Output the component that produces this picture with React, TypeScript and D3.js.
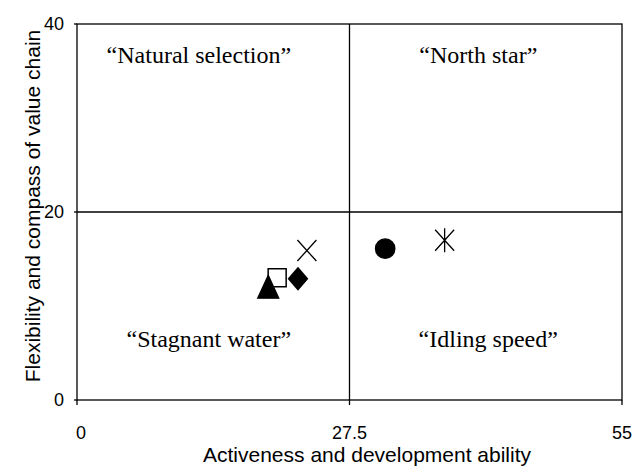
import React from 'react';
import * as d3 from 'd3';

// points
const markerShapes = ['square', 'triangle', 'diamond', 'cross', 'circle', 'asterisk'];
const xValues = [20.2, 19.3, 22.3, 23.2, 31.1, 37.1];
const yValues = [13.0, 12.0, 12.9, 15.9, 16.1, 17.0];

// axes
const xTicks = [0, 27.5, 55];
const yTicks = [0, 20, 40];
const xTitle = 'Activeness and development ability';
const yTitle = 'Flexibility and compass of value chain';

// quadrant labels
const quadrantNames = ['\u201cNatural selection\u201d', '\u201cNorth star\u201d', '\u201cStagnant water\u201d', '\u201cIdling speed\u201d'];
const quadrantX = [12.3, 40.5, 13.3, 41.5];
const quadrantY = [35.8, 35.8, 5.6, 5.6];

const width = 634;
const height = 468;
const margin = { top: 24, right: 12, bottom: 68, left: 77 };

// path for each marker, centred on 0,0
const markerPath = (shape: string) => {
    switch (shape) {
        case 'square':
            return 'M-9,-9H9V9H-9Z';
        case 'triangle':
            return 'M0,-12L10.5,11L-10.5,11Z';
        case 'diamond':
            return 'M0,-11L9.5,0L0,11L-9.5,0Z';
        case 'cross':
            return 'M-9.5,-10.5L9.5,10.5M9.5,-10.5L-9.5,10.5';
        case 'asterisk':
            return 'M-9.5,-10.5L9.5,10.5M9.5,-10.5L-9.5,10.5M0,-12L0,12';
        default:
            return d3.symbol().type(d3.symbolCircle).size(Math.PI * 9.7 * 9.7)() as string;
    }
};

const App = () => {
    const x = d3.scaleLinear().domain([0, 55]).range([margin.left, width - margin.right]);
    const y = d3.scaleLinear().domain([0, 40]).range([height - margin.bottom, margin.top]);

    const line = { stroke: '#000', strokeWidth: 1.3, fill: 'none' };
    const sans = 'Liberation Sans, Arial, sans-serif';
    const serif = 'Liberation Serif, Times New Roman, serif';

    return (
        <svg width={width} height={height} style={{ position: 'absolute', left: 0, top: 0, background: '#fff' }}>
            {/* frame and quadrant lines */}
            <rect x={x(0)} y={y(40)} width={x(55) - x(0)} height={y(0) - y(40)} {...line} />
            <line x1={x(27.5)} x2={x(27.5)} y1={y(40)} y2={y(0)} {...line} />
            <line x1={x(0)} x2={x(55)} y1={y(20)} y2={y(20)} {...line} />

            {/* x ticks */}
            {xTicks.map((t) => (
                <g key={'x' + t}>
                    <line x1={x(t)} x2={x(t)} y1={y(0)} y2={y(0) + 5} {...line} />
                    <text x={x(t) + (t === 0 ? 4 : 0)} y={y(0) + 39} textAnchor="middle" fontFamily={sans} fontSize={18}>{t}</text>
                </g>
            ))}
            {/* y ticks */}
            {yTicks.map((t) => (
                <g key={'y' + t}>
                    <line x1={x(0) - 3} x2={x(0)} y1={y(t)} y2={y(t)} {...line} />
                    <text x={x(0) - 13} y={y(t) + 6} textAnchor="end" fontFamily={sans} fontSize={18}>{t}</text>
                </g>
            ))}

            <text x={203} y={y(0) + 62} fontFamily={sans} fontSize={21}>{xTitle}</text>
            <text transform={`translate(40,${(y(0) + y(40)) / 2 - 6}) rotate(-90)`} textAnchor="middle" fontFamily={sans} fontSize={21}>{yTitle}</text>

            {quadrantNames.map((q, i) => (
                <text key={q} x={x(quadrantX[i])} y={y(quadrantY[i])} textAnchor="middle" fontFamily={serif} fontSize={24}>{q}</text>
            ))}

            {markerShapes.map((s, i) => (
                <path
                    key={s}
                    d={markerPath(s)}
                    transform={`translate(${x(xValues[i])},${y(yValues[i])})`}
                    fill={s === 'square' ? '#fff' : s === 'cross' || s === 'asterisk' ? 'none' : '#000'}
                    stroke="#000"
                    strokeWidth={s === 'square' ? 1.5 : 1.3}
                    strokeLinejoin="miter"
                />
            ))}
        </svg>
    );
};

export default App;
